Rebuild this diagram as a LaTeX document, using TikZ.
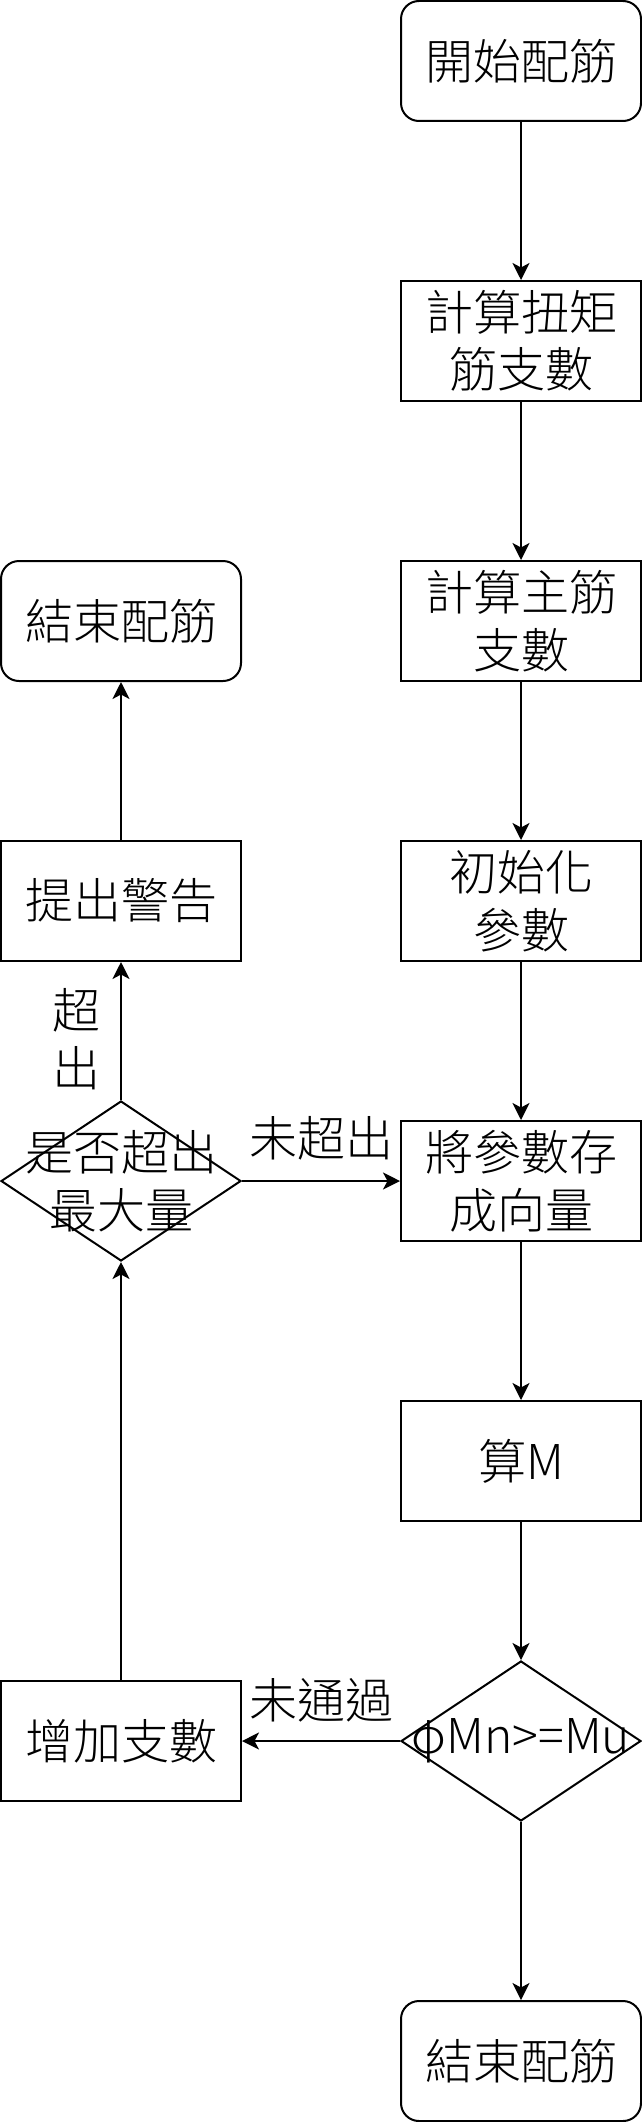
\documentclass[tikz,border=0pt]{standalone}
\usepackage{fontspec}
\setmainfont{Noto Sans CJK TC Light}
\usetikzlibrary{shapes.geometric,arrows.meta}
\begin{document}
\begin{tikzpicture}[x=1pt,y=-1pt,
  every node/.style={font=\fontsize{48pt}{57.6pt}\selectfont},
  proc/.style={draw,line width=2pt,minimum width=240pt,minimum height=120pt,inner sep=0pt,align=center},
  term/.style={proc,rounded corners=18pt},
  dia/.style={draw,line width=2pt,diamond,minimum width=240pt,minimum height=160pt,inner sep=0pt},
  arr/.style={line width=2pt,-{Stealth[length=17pt,width=17pt,inset=4.5pt]}},
  lbl/.style={inner sep=0pt,align=center}]
\useasboundingbox (0,0) rectangle (642,2122);
% right column
\node[term] (start) at (521,61) {開始配筋};
\node[proc] (torsion) at (521,341) {計算扭矩\\筋支數};
\node[proc] (main) at (521,621) {計算主筋\\支數};
\node[proc] (init) at (521,901) {初始化\\參數};
\node[proc] (vec) at (521,1181) {將參數存\\成向量};
\node[proc] (calcM) at (521,1461) {算M};
\node[dia] (check) at (521,1741) {};
\node[lbl] (checkt) at (check.center) {φMn>=Mu};
\node[term] (endR) at (521,2061) {結束配筋};
% left column
\node[term] (endL) at (121,621) {結束配筋};
\node[proc] (warn) at (121,901) {提出警告};
\node[dia] (max) at (121,1181) {};
\node[lbl] (maxt) at (max.center) {是否超出\\最大量};
\node[proc] (inc) at (121,1741) {增加支數};
% connectors
\draw[arr] (start) -- (torsion);
\draw[arr] (torsion) -- (main);
\draw[arr] (main) -- (init);
\draw[arr] (init) -- (vec);
\draw[arr] (vec) -- (calcM);
\draw[arr] (calcM) -- (check.north);
\draw[arr] (check.south) -- (endR);
\draw[arr] (check.west) -- (inc.east) node[lbl,midway,yshift=41pt] {未通過};
\draw[arr] (inc.north) -- (max.south);
\draw[arr] (max.east) -- (vec.west) node[lbl,midway,yshift=43pt] {未超出};
\draw[arr] (max.north) -- (warn.south) node[lbl,pos=0.44,anchor=east,xshift=-20pt] {超\\出};
\draw[arr] (warn.north) -- (endL.south);
\end{tikzpicture}
\end{document}
